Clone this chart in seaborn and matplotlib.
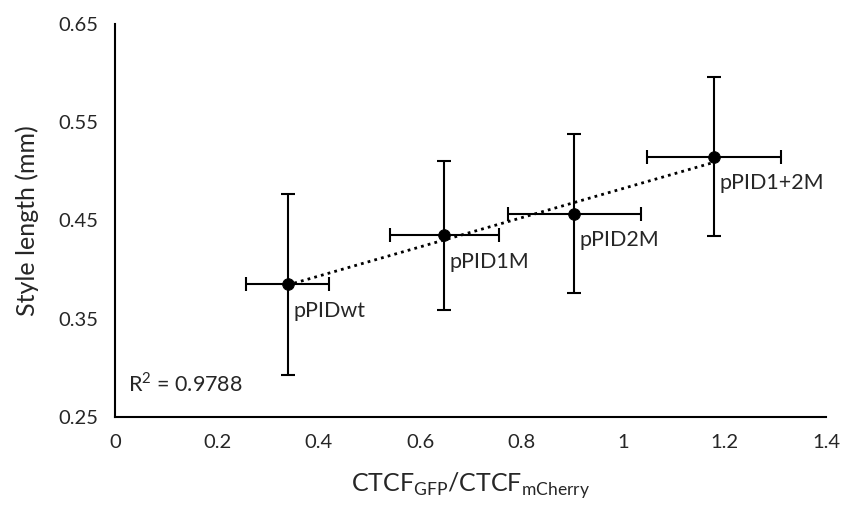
import numpy as np
import pandas as pd
import matplotlib
matplotlib.use("Agg")
import matplotlib.pyplot as plt
import seaborn as sns

# values
constructs = ["pPIDwt", "pPID1M", "pPID2M", "pPID1+2M"]
ctcf_ratio = [0.339, 0.648, 0.904, 1.179]
ctcf_err = [0.081, 0.108, 0.131, 0.132]
style_length = [0.385, 0.435, 0.457, 0.515]
style_err = [0.092, 0.076, 0.081, 0.081]
r_squared = r"R$^{\mathregular{2}}$ = 0.9788"

df = pd.DataFrame({"construct": constructs, "ratio": ctcf_ratio, "ratio_err": ctcf_err,
                   "length": style_length, "length_err": style_err})

sns.set_theme(style="white")
plt.rcParams["font.family"] = ["Lato", "DejaVu Sans"]

fig = plt.figure(figsize=(8.43, 5.08), dpi=100)
ax = fig.add_axes([0.137, 0.179, 0.843, 0.774])

ax.errorbar(df["ratio"], df["length"], xerr=df["ratio_err"], yerr=df["length_err"],
            fmt="none", ecolor="black", elinewidth=1.5, capsize=5, capthick=1.5, zorder=2)
sns.regplot(data=df, x="ratio", y="length", ax=ax, scatter=False, ci=None,
            line_kws={"color": "black", "linestyle": (0, (1, 1.5)), "linewidth": 2}, truncate=True)
sns.scatterplot(data=df, x="ratio", y="length", ax=ax, color="black", s=70,
                edgecolor="black", zorder=3)

for _, row in df.iterrows():
    ax.annotate(row["construct"], (row["ratio"], row["length"]), xytext=(4, -19),
                textcoords="offset points", ha="left", va="center", fontsize=15.5, color="#262626")

ax.text(0.025, 0.284, r_squared, fontsize=15.5, va="center", ha="left", color="#262626")

ax.set_xlim(0, 1.4)
ax.set_ylim(0.25, 0.65)
ax.set_xticks(np.arange(0, 1.41, 0.2))
ax.set_xticklabels(["0", "0.2", "0.4", "0.6", "0.8", "1", "1.2", "1.4"])
ax.set_yticks([0.25, 0.35, 0.45, 0.55, 0.65])
ax.set_yticklabels(["0.25", "0.35", "0.45", "0.55", "0.65"])
ax.tick_params(axis="both", length=0, labelsize=14.5, labelcolor="#262626")
ax.tick_params(axis="x", pad=12)
ax.tick_params(axis="y", pad=12)

ax.set_xlabel(r"CTCF$_{\mathregular{GFP}}$/CTCF$_{\mathregular{mCherry}}$", fontsize=18,
              color="#262626", labelpad=14)
ax.set_ylabel("Style length (mm)", fontsize=18, color="#262626", labelpad=14)

sns.despine(ax=ax)
for side in ["left", "bottom"]:
    ax.spines[side].set_color("black")
    ax.spines[side].set_linewidth(1.5)

fig.savefig("out.png", dpi=100)
